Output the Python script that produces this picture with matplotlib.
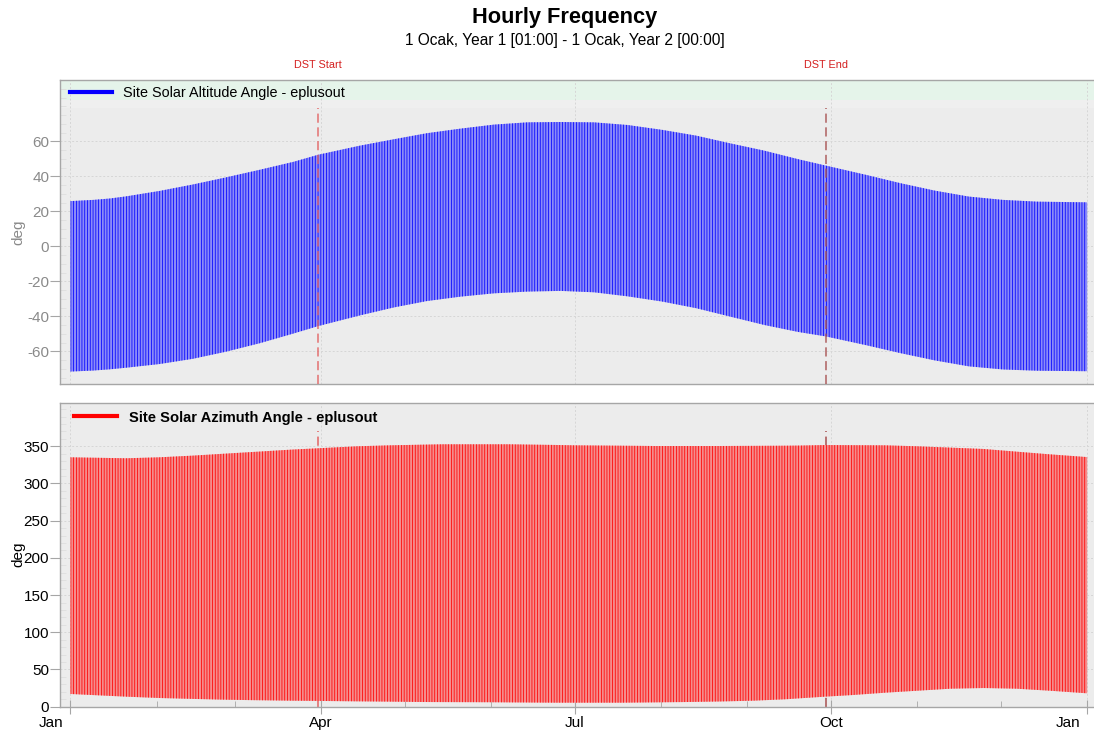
import matplotlib
matplotlib.use("Agg")
import matplotlib.pyplot as plt
from matplotlib.lines import Line2D
from matplotlib.ticker import FixedLocator, MultipleLocator

plt.rcParams['font.family'] = ['Liberation Sans', 'DejaVu Sans']
plt.rcParams['hatch.linewidth'] = 0.55
plt.rcParams['axes.unicode_minus'] = False

# ---------------- data ----------------
# day-of-year positions (days after 1 Jan, Year 1)
alt_days = [0.04, 8.3, 14.3, 20, 32, 44, 56, 68, 80, 89, 104, 116, 128, 140, 152, 164, 176,
            188, 200, 212.5, 224.7, 236.9, 249.2, 261.4, 271.2, 285.9, 298.1,
            310.3, 322.5, 334.8, 347, 365]
# daily maximum / minimum of Site Solar Altitude Angle (deg)
alt_max = [25.8, 26.5, 27.3, 28.5, 31.6, 35.3, 39.4, 43.7, 48.2, 52.3, 57.5, 61.1, 64.6,
           67.2, 69.5, 70.8, 71.0, 70.8, 69.3, 66.5, 63.2, 58.8, 54.6, 49.7, 46.1, 40.7,
           36.0, 31.8, 28.4, 26.5, 25.5, 25.1]
alt_min = [-71.6, -71.0, -70.3, -69.4, -67.3, -64.3, -60.2, -55.4, -49.9, -45.6, -39.5,
           -35.0, -31.3, -28.8, -26.9, -25.9, -25.5, -26.3, -28.6, -31.6, -35.4, -40.2,
           -45.0, -49.0, -51.5, -56.6, -61.1, -65.2, -68.6, -70.4, -71.1, -71.4]

azi_days = [0.04, 20, 31.9, 43.7, 55.5, 67.4, 79.2, 88.7, 102.9, 114.7, 126.6, 133.7,
            150.4, 157.4, 174, 181, 197.8, 209.5, 221.5, 233, 245.3, 256.8, 261.9,
            271, 280.9, 292.4, 304.2, 316, 327.9, 339.7, 351.6, 365]
# daily maximum / minimum of Site Solar Azimuth Angle (deg)
azi_max = [335.2, 333.9, 335.2, 337.4, 340.1, 342.8, 345.5, 347.3, 350.0, 351.3, 352.2,
           352.7, 352.7, 352.7, 351.8, 351.3, 350.8, 350.4, 350.4, 350.4, 350.6, 350.8,
           351.0, 351.7, 351.5, 351.3, 350.0, 348.2, 346.4, 342.8, 339.2, 335.5]
azi_min = [17.1, 13.5, 11.7, 10.5, 9.4, 8.7, 8.1, 7.8, 7.2, 6.8, 6.3, 6.2, 6.0, 5.8,
           5.4, 5.4, 5.4, 5.8, 6.3, 7.0, 8.1, 10.0, 11.3, 13.5, 15.7, 18.8, 21.5, 24.2,
           25.1, 24.2, 21.5, 18.0]

month_starts = [0, 31, 59, 90, 120, 151, 181, 212, 243, 273, 304, 334, 365]
major_days = [0, 90, 181, 273, 365]
major_labels = ['Jan', 'Apr', 'Jul', 'Oct', 'Jan']
dst_days = [89.0, 271.1]
dst_labels = ['DST Start', 'DST End']

alt_name = 'Site Solar Altitude Angle - eplusout'
azi_name = 'Site Solar Azimuth Angle - eplusout'
title = 'Hourly Frequency'
subtitle = '1 Ocak, Year 1 [01:00] - 1 Ocak, Year 2 [00:00]'

# ---------------- figure ----------------
W, H = 1094, 740
fig = plt.figure(figsize=(W / 100, H / 100), dpi=100)
fig.patch.set_facecolor('white')

L = 60.3 / W
AW = (1093.5 - 60.3) / W
ax1 = fig.add_axes([L, 1 - 384.0 / H, AW, 304.0 / H])
ax2 = fig.add_axes([L, 1 - 706.7 / H, AW, 304.0 / H])

XMIN, XMAX = -3.6, 367.3
grid_kw = dict(color='#d6d6d6', linestyle=(0, (2, 2)), linewidth=0.7)

for ax in (ax1, ax2):
    ax.set_facecolor('#ececec')
    ax.set_xlim(XMIN, XMAX)
    for s in ('left', 'bottom', 'top'):
        ax.spines[s].set_color('#a6a6a6')
        ax.spines[s].set_linewidth(1.0)
    ax.spines['right'].set_visible(False)
    ax.xaxis.set_major_locator(FixedLocator(major_days))
    ax.xaxis.set_minor_locator(FixedLocator(month_starts))
    ax.grid(True, which='major', **grid_kw)
    ax.set_axisbelow(True)

# ---- top panel: altitude ----
ax1.set_ylim(-78.7, 95.0)
ax1.axhspan(83.6, 95.0, color='#e5f4ea', zorder=0.5, lw=0)
ax1.axhspan(79.0, 83.6, color='#efefef', zorder=0.5, lw=0)
ax1.fill_between(alt_days, alt_min, alt_max, facecolor='#8b8bf8',
                 edgecolor='#0000ff', hatch='|' * 6, linewidth=0, zorder=2)
ax1.yaxis.set_major_locator(FixedLocator([-60, -40, -20, 0, 20, 40, 60]))
ax1.yaxis.set_minor_locator(MultipleLocator(5))
ax1.tick_params(axis='y', which='major', direction='out', length=7, color='#a6a6a6',
                labelsize=11, labelcolor='#8a8a8a', pad=1)
ax1.tick_params(axis='y', which='minor', direction='in', length=4, color='#dedede')
ax1.tick_params(axis='x', which='both', length=0, labelbottom=False)
ax1.set_ylabel('deg', fontsize=11, color='#8a8a8a')
ax1.yaxis.set_label_coords(-0.034, 0.5)

# ---- bottom panel: azimuth ----
ax2.set_ylim(0, 408.6)
ax2.fill_between(azi_days, azi_min, azi_max, facecolor='#f58c8c',
                 edgecolor='#ff0000', hatch='|' * 6, linewidth=0, zorder=2)
ax2.yaxis.set_major_locator(FixedLocator([0, 50, 100, 150, 200, 250, 300, 350]))
ax2.yaxis.set_minor_locator(MultipleLocator(10))
ax2.tick_params(axis='y', which='major', direction='out', length=7, color='#a6a6a6',
                labelsize=11, labelcolor='black', pad=1)
ax2.tick_params(axis='y', which='minor', direction='in', length=4, color='#dedede')
ax2.tick_params(axis='x', which='major', direction='inout', length=10, color='#a6a6a6',
                labelsize=11, labelcolor='black', pad=2)
ax2.tick_params(axis='x', which='minor', direction='in', length=4.5, color='#a6a6a6')
# year-boundary labels (Jan) sit just left of their tick, the others are centred
ax2.set_xticklabels(['' if lab == 'Jan' else lab for lab in major_labels])
for d, lab in zip(major_days, major_labels):
    if lab == 'Jan':
        ax2.annotate(lab, xy=(d, 0), xycoords=('data', 'axes fraction'),
                     xytext=(-5, -7), textcoords='offset points', ha='right', va='top',
                     fontsize=11, color='black', annotation_clip=False)
ax2.set_ylabel('deg', fontsize=11, color='black')
ax2.yaxis.set_label_coords(-0.034, 0.5)

# ---- DST lines ----
dst_colors_top = ['#e26464', '#a85050']
for d, c in zip(dst_days, dst_colors_top):
    ax1.axvline(d, ymin=0, ymax=0.908, color=c, linestyle=(0, (6, 3)), linewidth=1.1,
                zorder=3, alpha=0.9)
    ax2.axvline(d, ymin=0, ymax=0.907, color=c, linestyle=(0, (6, 3)), linewidth=1.1,
                zorder=1)
for d, lab in zip(dst_days, dst_labels):
    ax1.annotate(lab, xy=(d, 1), xycoords=('data', 'axes fraction'),
                 xytext=(0, 7), textcoords='offset points', ha='center', va='bottom',
                 fontsize=7.8, color='#d42020')

# ---- legends ----
leg1 = ax1.legend(handles=[Line2D([], [], color='#0000ff', lw=3)], labels=[alt_name],
                  loc='upper left', bbox_to_anchor=(0.001, 1.01), frameon=False,
                  fontsize=10.4, handlelength=2.9, handletextpad=0.75, borderaxespad=0,
                  borderpad=0.6)
leg2 = ax2.legend(handles=[Line2D([], [], color='#ff0000', lw=3)], labels=[azi_name],
                  loc='upper left', bbox_to_anchor=(0.005, 1.003), frameon=False,
                  prop={'size': 10.6, 'weight': 'bold'}, handlelength=2.9,
                  handletextpad=0.8, borderaxespad=0, borderpad=0.6)

# ---- titles ----
fig.text(565 / W, 1 - 18 / H, title, ha='center', va='center', fontsize=15.7,
         weight='bold')
fig.text(565 / W, 1 - 40 / H, subtitle, ha='center', va='center', fontsize=11.2)

fig.savefig('out.png', dpi=100, facecolor='white')
